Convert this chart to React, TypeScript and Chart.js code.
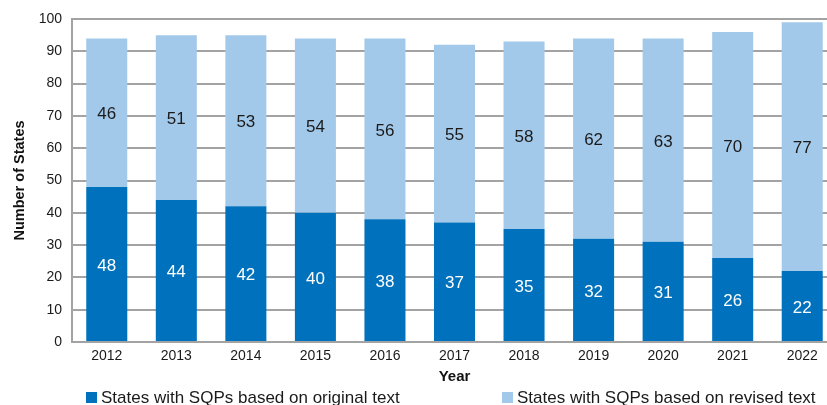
import React, { useEffect, useRef } from "react";
import { Chart, registerables } from "chart.js";

Chart.register(...registerables);

const years = ["2012", "2013", "2014", "2015", "2016", "2017", "2018", "2019", "2020", "2021", "2022"];
const originalText = [48, 44, 42, 40, 38, 37, 35, 32, 31, 26, 22];
const revisedText = [46, 51, 53, 54, 56, 55, 58, 62, 63, 70, 77];
const seriesNames = ["States with SQPs based on original text", "States with SQPs based on revised text"];
const yTicks = [0, 10, 20, 30, 40, 50, 60, 70, 80, 90, 100];

const DARK = "#0071bc";
const LIGHT = "#a3c9ea";
const GRID = "#a3a3a3";
const FONT = "'Liberation Sans', Arial, Helvetica, sans-serif";

const valueLabels = {
  id: "valueLabels",
  afterDatasetsDraw(chart: any) {
    const ctx = chart.ctx;
    ctx.save();
    ctx.font = `17px ${FONT}`;
    ctx.textAlign = "center";
    ctx.textBaseline = "middle";
    chart.data.datasets.forEach((ds: any, di: number) => {
      const meta = chart.getDatasetMeta(di);
      ctx.fillStyle = di === 0 ? "#ffffff" : "#1a1a1a";
      meta.data.forEach((bar: any, i: number) => {
        const { x, y, base } = bar.getProps(["x", "y", "base"], true);
        ctx.fillText(String(ds.data[i]), x, (y + base) / 2 + 2);
      });
    });
    ctx.restore();
  },
};

const bottomLegend = {
  id: "bottomLegend",
  afterDraw(chart: any) {
    const ctx = chart.ctx;
    const left = chart.chartArea.left;
    const items = [
      { x: left + 14, color: DARK, text: seriesNames[0] },
      { x: left + 430, color: LIGHT, text: seriesNames[1] },
    ];
    const cy = 397;
    ctx.save();
    ctx.font = `17px ${FONT}`;
    ctx.textBaseline = "middle";
    ctx.textAlign = "left";
    items.forEach((it) => {
      ctx.fillStyle = it.color;
      ctx.fillRect(it.x, cy - 5, 11, 11);
      ctx.fillStyle = "#1a1a1a";
      ctx.fillText(it.text, it.x + 15, cy + 1);
    });
    ctx.restore();
  },
};

export default function App() {
  const canvasRef = useRef<HTMLCanvasElement | null>(null);

  useEffect(() => {
    document.documentElement.style.overflow = "hidden";
    document.body.style.overflow = "hidden";
    const canvas = canvasRef.current;
    if (!canvas) return;
    const chart = new Chart(canvas, {
      type: "bar",
      data: {
        labels: years,
        datasets: [
          {
            label: seriesNames[0],
            data: originalText,
            backgroundColor: DARK,
            borderWidth: 0,
            barPercentage: 0.59,
            categoryPercentage: 1,
          },
          {
            label: seriesNames[1],
            data: revisedText,
            backgroundColor: LIGHT,
            borderWidth: 0,
            barPercentage: 0.59,
            categoryPercentage: 1,
          },
        ],
      },
      options: {
        responsive: false,
        animation: false,
        devicePixelRatio: 1,
        layout: { padding: { top: 19, right: 8, bottom: 18, left: 0 } },
        plugins: {
          legend: { display: false },
          tooltip: { enabled: false },
        },
        scales: {
          x: {
            stacked: true,
            grid: { display: false, drawTicks: false },
            border: { display: true, color: GRID, width: 2 },
            ticks: { color: "#1a1a1a", font: { family: FONT, size: 14 }, padding: 6 },
            title: {
              display: true,
              text: "Year",
              color: "#111",
              font: { family: FONT, size: 15, weight: "bold" },
              padding: { top: 0, bottom: 1 },
            },
            afterFit(scale: any) {
              scale.height = 45;
            },
          },
          y: {
            stacked: true,
            min: 0,
            max: 100,
            afterBuildTicks(scale: any) {
              scale.ticks = yTicks.map((v) => ({ value: v }));
            },
            grid: { color: GRID, lineWidth: 2, drawTicks: false },
            border: { display: true, color: GRID, width: 2 },
            ticks: { color: "#1a1a1a", font: { family: FONT, size: 14 }, padding: 10 },
            title: {
              display: true,
              text: "Number of States",
              color: "#111",
              font: { family: FONT, size: 14.5, weight: "bold" },
              padding: { top: 11, bottom: 0 },
            },
            afterFit(scale: any) {
              scale.width = 72;
            },
          },
        },
      },
      plugins: [valueLabels, bottomLegend],
    });
    return () => chart.destroy();
  }, []);

  return (
    <div style={{ position: "fixed", left: 0, top: 0, width: 845, height: 405 }}>
      <canvas ref={canvasRef} width={845} height={405} style={{ width: 845, height: 405 }} />
    </div>
  );
}
